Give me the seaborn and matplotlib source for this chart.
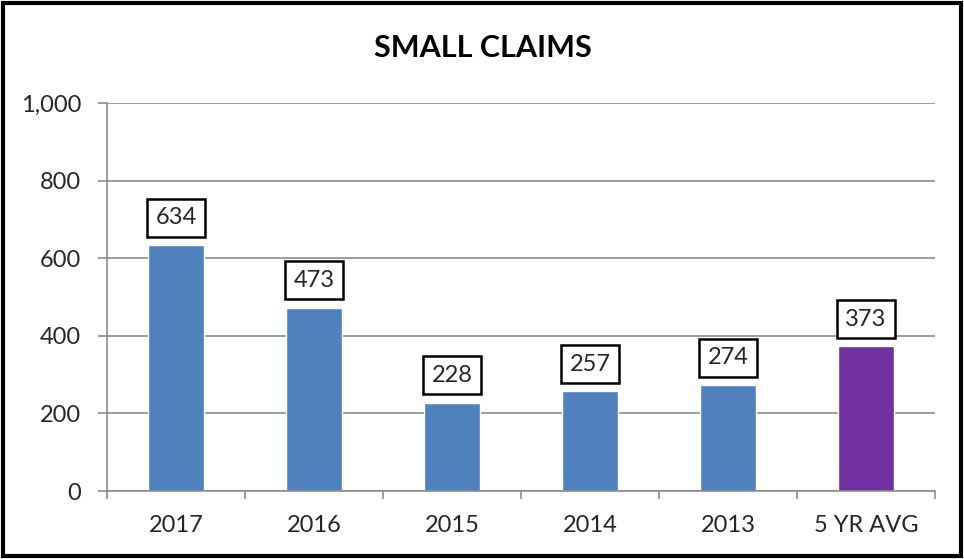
import pandas as pd
import matplotlib.pyplot as plt
import seaborn as sns
from matplotlib.patches import Rectangle
from matplotlib.ticker import FuncFormatter, FixedLocator

categories = ['2017', '2016', '2015', '2014', '2013', '5 YR AVG']
values = [634, 473, 228, 257, 274, 373]
bar_colors = ['#4F81BD'] * 5 + ['#7030A0']

df = pd.DataFrame({'Year': categories, 'Cases': values})

sns.set_style('white')
plt.rcParams['font.family'] = ['Lato', 'DejaVu Sans']

fig = plt.figure(figsize=(9.64, 5.59), dpi=100)
ax = fig.add_axes([0.111, 0.1216, 0.859, 0.6941])

sns.barplot(data=df, x='Year', y='Cases', hue='Year', palette=bar_colors,
            width=0.4, legend=False, ax=ax, saturation=1)

ax.set_ylim(0, 1000)
ax.set_xlim(-0.5, 5.5)
ax.set_yticks(range(0, 1001, 200))
ax.yaxis.set_major_formatter(FuncFormatter(lambda v, p: f'{int(v):,}'))
ax.grid(axis='y', color='#8C8C8C', linewidth=1.2)
ax.set_axisbelow(True)

for side in ['top', 'right']:
    ax.spines[side].set_visible(False)
for side in ['left', 'bottom']:
    ax.spines[side].set_color('#8C8C8C')
    ax.spines[side].set_linewidth(1.2)

ax.tick_params(axis='y', direction='out', length=6.5, width=1.2, color='#8C8C8C',
               labelsize=17, pad=12, left=True)
ax.tick_params(axis='x', which='major', length=0, labelsize=17, pad=17)
ax.xaxis.set_minor_locator(FixedLocator([i - 0.5 for i in range(len(categories) + 1)]))
ax.tick_params(axis='x', which='minor', direction='out', length=5.5, width=1.2,
               color='#8C8C8C', bottom=True)
ax.set_xlabel('')
ax.set_ylabel('')

# value labels in boxes
for i, v in enumerate(values):
    ax.annotate(str(v), (i, v), xytext=(0, 12), textcoords='offset points',
                ha='center', va='bottom', fontsize=17,
                bbox=dict(boxstyle='square,pad=0.36', fc='white', ec='black', lw=1.8))

fig.text(0.501, 0.914, 'SMALL CLAIMS', ha='center', va='center',
         fontsize=22, fontweight='bold', color='black')

# outer border
fig.patches.append(Rectangle((0.003, 0.005), 0.994, 0.99, transform=fig.transFigure,
                             fill=False, ec='black', lw=3))

fig.savefig('out.png', dpi=100)
